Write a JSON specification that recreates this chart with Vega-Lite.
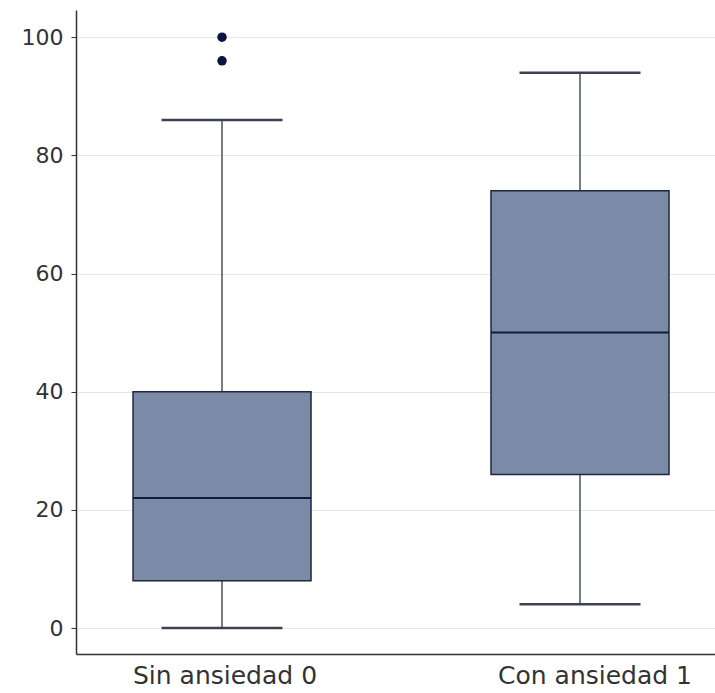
{
  "$schema": "https://vega.github.io/schema/vega-lite/v6.json",
  "width": 639,
  "height": 644,
  "autosize": {"type": "none"},
  "padding": {"left": 76, "top": 10, "right": 0, "bottom": 39},
  "background": "white",
  "config": {
    "view": {"stroke": null},
    "axis": {"labelFont": "DejaVu Sans", "labelColor": "#333333", "domainColor": "#333333", "tickColor": "#333333", "domainWidth": 1.5}
  },
  "datasets": {
    "stats": [
      {"grupo": "Sin ansiedad 0", "lower": 0, "q1": 8, "median": 22, "q3": 40, "upper": 86},
      {"grupo": "Con ansiedad 1", "lower": 4, "q1": 26, "median": 50, "q3": 74, "upper": 94}
    ],
    "outliers": [
      {"grupo": "Sin ansiedad 0", "valor": 96},
      {"grupo": "Sin ansiedad 0", "valor": 100}
    ]
  },
  "encoding": {
    "x": {
      "field": "grupo", "type": "nominal", "title": null,
      "sort": ["Sin ansiedad 0", "Con ansiedad 1"],
      "scale": {"domain": ["Sin ansiedad 0", "Con ansiedad 1"], "paddingInner": 0.5, "paddingOuter": 0.1425, "align": 0.554},
      "axis": {"labelAngle": 0, "ticks": false, "labelFontSize": 25, "labelPadding": 9, "labelLimit": 0, "grid": false,
        "labelOffset": {"condition": {"test": "datum.value == 'Con ansiedad 1'", "value": 15}, "value": 3}}
    }
  },
  "layer": [
    {
      "data": {"name": "stats"},
      "mark": {"type": "rule", "color": "#4a505c", "strokeWidth": 1.5},
      "encoding": {
        "y": {"field": "lower", "type": "quantitative", "title": null,
          "scale": {"domain": [-4.4, 104.6], "nice": false, "zero": false},
          "axis": {"values": [0, 20, 40, 60, 80, 100], "grid": true, "gridColor": "#e6e6e6", "gridWidth": 1, "tickSize": 5, "labelFontSize": 22, "labelPadding": 8}},
        "y2": {"field": "upper"}
      }
    },
    {
      "data": {"name": "stats"},
      "mark": {"type": "bar", "size": 178, "fill": "#7b8aa6", "stroke": "#1c2742", "strokeWidth": 1.5},
      "encoding": {
        "y": {"field": "q1", "type": "quantitative"},
        "y2": {"field": "q3"}
      }
    },
    {
      "data": {"name": "stats"},
      "mark": {"type": "tick", "size": 178, "thickness": 2, "color": "#0f1d3c", "opacity": 1},
      "encoding": {"y": {"field": "median", "type": "quantitative"}}
    },
    {
      "data": {"name": "stats"},
      "mark": {"type": "tick", "size": 121, "thickness": 2.5, "color": "#3c4250", "opacity": 1},
      "encoding": {"y": {"field": "lower", "type": "quantitative"}}
    },
    {
      "data": {"name": "stats"},
      "mark": {"type": "tick", "size": 121, "thickness": 2.5, "color": "#3c4250", "opacity": 1},
      "encoding": {"y": {"field": "upper", "type": "quantitative"}}
    },
    {
      "data": {"name": "outliers"},
      "mark": {"type": "point", "filled": true, "size": 90, "color": "#0a1540", "opacity": 1},
      "encoding": {"y": {"field": "valor", "type": "quantitative"}}
    }
  ]
}
